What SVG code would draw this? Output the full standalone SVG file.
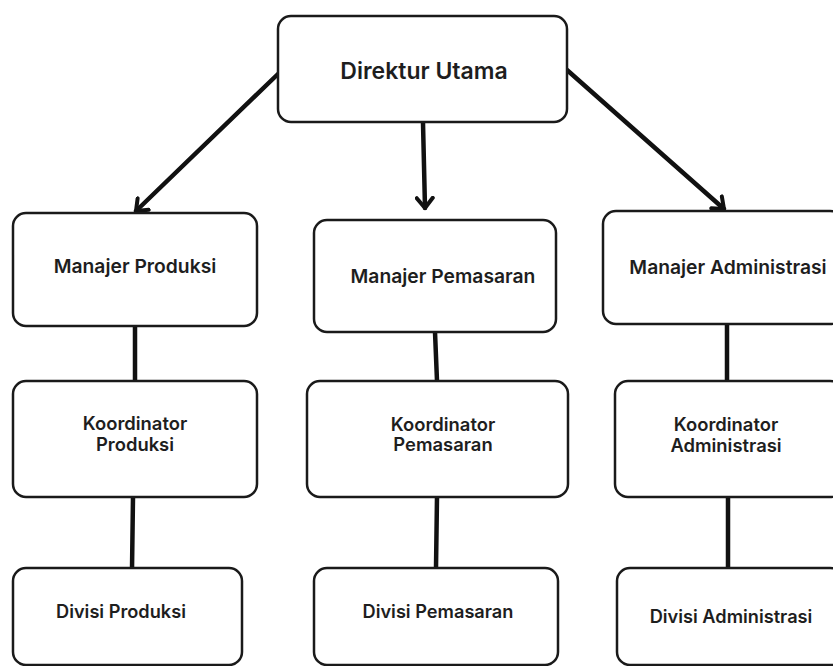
<svg xmlns="http://www.w3.org/2000/svg" width="833" height="666" viewBox="0 0 833 666">
<style>
.box{fill:#fff;stroke:#1a1a1a;stroke-width:2.5}
.t{font-family:Inter,"Open Sans",sans-serif;font-weight:600;fill:#1e1e1e;text-anchor:middle}
.m{font-size:19.3px}
.k{font-size:18.4px}
.d{font-size:18.2px}
.c{stroke:#111;stroke-width:4.5;fill:none;stroke-linecap:round}
</style>
<defs>
<marker id="ah" viewBox="-12 -10 14 20" refX="0" refY="0" markerWidth="14" markerHeight="20" markerUnits="userSpaceOnUse" orient="auto">
<path d="M-10,-8 L0,0 L-10,8" fill="none" stroke="#111" stroke-width="4" stroke-linecap="round" stroke-linejoin="round"/>
</marker>
</defs>
<rect width="833" height="666" fill="#fff"/>
<g id="connectors">
<line class="c" x1="278" y1="74" x2="136" y2="211" marker-end="url(#ah)"/>
<line class="c" x1="423" y1="123" x2="425" y2="208" marker-end="url(#ah)"/>
<line class="c" x1="567" y1="70" x2="724" y2="209" marker-end="url(#ah)"/>
<line class="c" x1="135" y1="326" x2="135" y2="381"/>
<line class="c" x1="133" y1="497" x2="132" y2="570"/>
<line class="c" x1="435" y1="332" x2="437" y2="381"/>
<line class="c" x1="437" y1="497" x2="436" y2="568"/>
<line class="c" x1="727" y1="324" x2="727" y2="381"/>
<line class="c" x1="728" y1="497" x2="728" y2="568"/>
</g>
<g id="direktur">
<rect class="box" x="278" y="16" width="289" height="106" rx="13"/>
<text class="t" x="424" y="79" font-size="23">Direktur Utama</text>
</g>
<g id="manajer-produksi">
<rect class="box" x="13" y="213" width="244" height="113" rx="13"/>
<text class="t m" x="135" y="273">Manajer Produksi</text>
</g>
<g id="manajer-pemasaran">
<rect class="box" x="314" y="220" width="242" height="112" rx="13"/>
<text class="t m" x="443" y="283">Manajer Pemasaran</text>
</g>
<g id="manajer-administrasi">
<rect class="box" x="603" y="211" width="240" height="113" rx="13"/>
<text class="t m" x="728" y="274">Manajer Administrasi</text>
</g>
<g id="koordinator-produksi">
<rect class="box" x="13" y="381" width="244" height="116" rx="13"/>
<text class="t k" x="135" y="430">Koordinator</text>
<text class="t k" x="135" y="451">Produksi</text>
</g>
<g id="koordinator-pemasaran">
<rect class="box" x="307" y="381" width="261" height="116" rx="13"/>
<text class="t k" x="443" y="431">Koordinator</text>
<text class="t k" x="443" y="451">Pemasaran</text>
</g>
<g id="koordinator-administrasi">
<rect class="box" x="615" y="381" width="228" height="116" rx="13"/>
<text class="t k" x="726" y="431">Koordinator</text>
<text class="t k" x="726" y="452">Administrasi</text>
</g>
<g id="divisi-produksi">
<rect class="box" x="13" y="568" width="229" height="97" rx="13"/>
<text class="t d" x="121" y="618">Divisi Produksi</text>
</g>
<g id="divisi-pemasaran">
<rect class="box" x="314" y="568" width="244" height="97" rx="13"/>
<text class="t d" x="438" y="618">Divisi Pemasaran</text>
</g>
<g id="divisi-administrasi">
<rect class="box" x="617" y="568" width="226" height="97" rx="13"/>
<text class="t d" x="731" y="623">Divisi Administrasi</text>
</g>
</svg>
